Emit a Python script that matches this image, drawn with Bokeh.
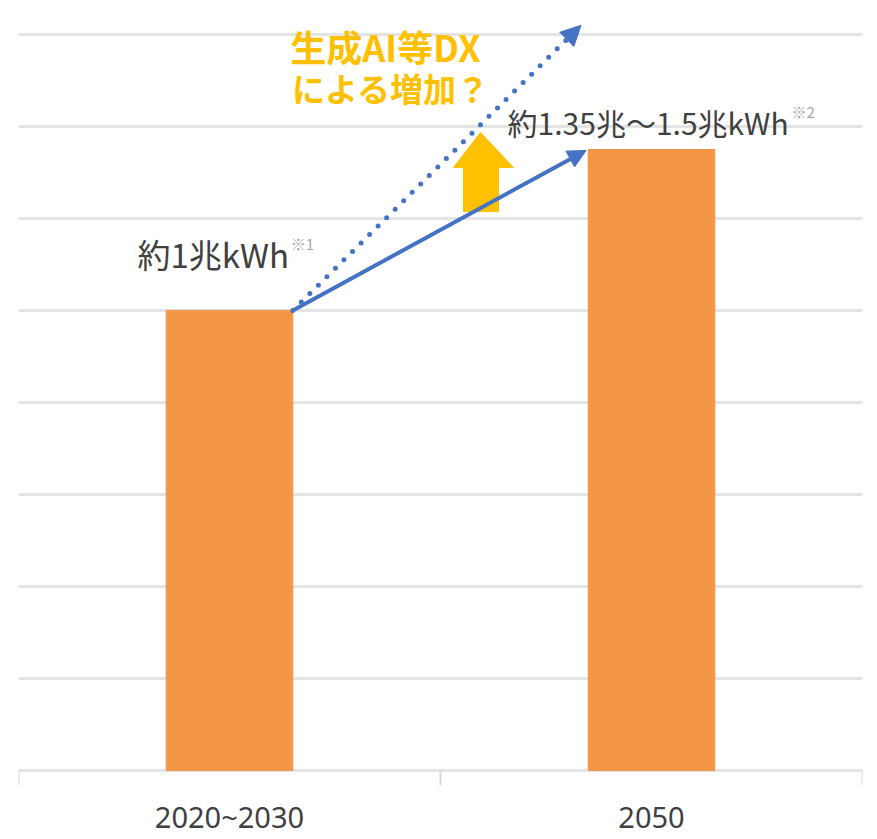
from bokeh.plotting import figure
from bokeh.models import Range1d, FixedTicker, Arrow, NormalHead
from bokeh.core.properties import value
from bokeh.embed import file_html
from bokeh.resources import INLINE

# ---- data ----
categories = ["2020~2030", "2050"]
cat_pos = [0.5, 1.5]
demand = [1.0, 1.35]          # trillion kWh
grid_ticks = [0.0, 0.2, 0.4, 0.6, 0.8, 1.0, 1.2, 1.4, 1.6]
label_left = "約1兆kWh"
label_right = "約1.35兆～1.5兆kWh"
note_left = "※1"
note_right = "※2"
ai_line1 = "生成AI等DX"
ai_line2 = "による増加？"

# annotation geometry (data coords)
solid_arrow = (0.65, 1.0, 1.345, 1.348)
dotted_arrow = (0.65, 1.0, 1.333, 1.62)
up_arrow_x = [1.0545, 1.0545, 1.0308, 1.0948, 1.1730, 1.1374, 1.1374]
up_arrow_y = [1.215, 1.3109, 1.3109, 1.3870, 1.3109, 1.3109, 1.215]

FONT = "Noto Sans CJK JP"
TEXT_COLOR = "#404040"
ORANGE = "#F39646"
BLUE = "#4472C4"
YELLOW = "#FFC000"

p = figure(frame_width=844, frame_height=777,
           x_range=Range1d(0, 2), y_range=Range1d(-0.0326, 1.6565),
           output_backend="svg", toolbar_location=None,
           min_border_left=18, min_border_right=5, min_border_top=8,
           min_border_bottom=46)
p.outline_line_color = None
p.yaxis.visible = False
p.xgrid.grid_line_color = None
p.ygrid.ticker = FixedTicker(ticks=grid_ticks)
p.ygrid.grid_line_color = "#e4e4e4"
p.ygrid.grid_line_width = 3

p.xaxis.ticker = FixedTicker(ticks=cat_pos)
p.xaxis.major_label_overrides = {cat_pos[i]: categories[i] for i in range(len(categories))}
p.xaxis.axis_line_color = None
p.xaxis.major_tick_line_color = None
p.xaxis.minor_tick_line_color = None
p.xaxis.major_label_text_font = "Noto Sans"
p.xaxis.major_label_text_font_size = "29px"
p.xaxis.major_label_text_color = TEXT_COLOR
p.xaxis.major_label_standoff = 5

# category boundary ticks
p.segment(x0=[0, 1, 2], y0=[0, 0, 0], x1=[0, 1, 2], y1=[-0.0326] * 3,
          line_color="#d9d9d9", line_width=2)

p.vbar(x=cat_pos, top=demand, width=0.30, color=ORANGE)

# yellow up arrow
p.patch(up_arrow_x, up_arrow_y, fill_color=YELLOW, line_color=YELLOW)

# blue arrows
p.add_layout(Arrow(x_start=dotted_arrow[0], y_start=dotted_arrow[1],
                   x_end=dotted_arrow[2], y_end=dotted_arrow[3],
                   line_color=BLUE, line_width=5, line_dash="0 12", line_cap="round",
                   end=NormalHead(size=20, fill_color=BLUE, line_color=BLUE)))
p.add_layout(Arrow(x_start=solid_arrow[0], y_start=solid_arrow[1],
                   x_end=solid_arrow[2], y_end=solid_arrow[3],
                   line_color=BLUE, line_width=4,
                   end=NormalHead(size=18, fill_color=BLUE, line_color=BLUE)))

# value labels
p.text(x=[0.282], y=[1.122], text=[label_left], text_font=value(FONT),
       text_font_size="33px", text_color=TEXT_COLOR, text_baseline="middle", text_align="left")
p.text(x=[0.645], y=[1.145], text=[note_left], text_font=value(FONT),
       text_font_size="15px", text_color="#a6a6a6", text_baseline="middle", text_align="left")
p.text(x=[1.159], y=[1.409], text=[label_right], text_font=value(FONT),
       text_font_size="30px", text_color=TEXT_COLOR, text_baseline="middle", text_align="left")
p.text(x=[1.832], y=[1.432], text=[note_right], text_font=value(FONT),
       text_font_size="15px", text_color="#a6a6a6", text_baseline="middle", text_align="left")

# AI annotation
p.text(x=[0.644], y=[1.576], text=[ai_line1], text_font=value(FONT), text_font_style="bold",
       text_font_size="36px", text_color=YELLOW, text_baseline="middle", text_align="left")
p.text(x=[0.648], y=[1.483], text=[ai_line2], text_font=value(FONT), text_font_style="bold",
       text_font_size="33px", text_color=YELLOW, text_baseline="middle", text_align="left")

open("out.html", "w").write(file_html(p, INLINE))
